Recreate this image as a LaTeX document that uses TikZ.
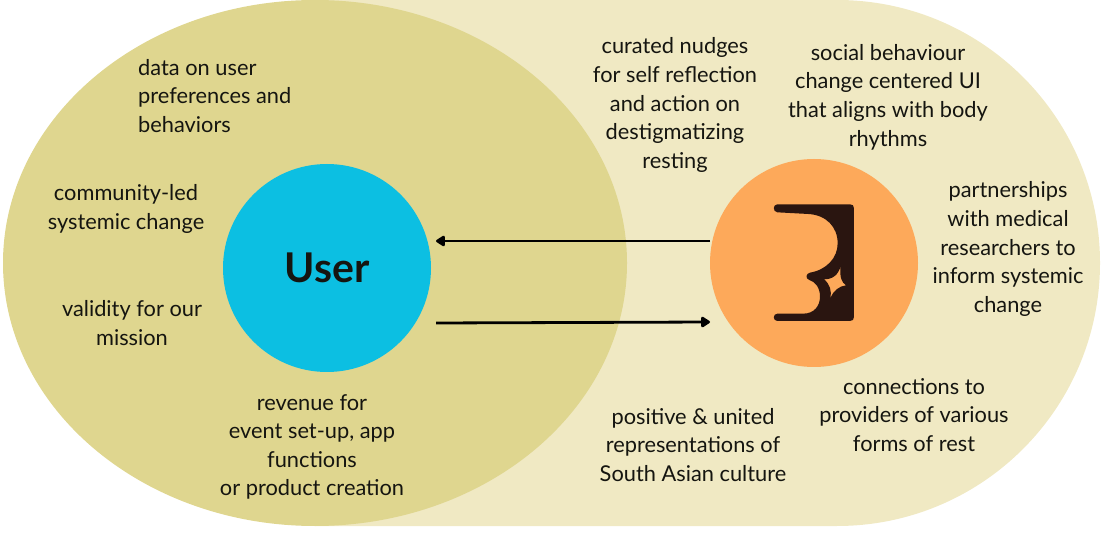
\documentclass[tikz,border=0pt]{standalone}
\usepackage{fontspec}
\setmainfont{Lato}
\usetikzlibrary{arrows.meta,shapes.geometric}
\definecolor{pale}{HTML}{F0E9C3}
\definecolor{olive}{HTML}{DFD68F}
\definecolor{cyanc}{HTML}{0CBFE2}
\definecolor{orangec}{HTML}{FDA95A}
\definecolor{logoc}{HTML}{2A1510}
\definecolor{inkc}{HTML}{151510}
\tikzset{
  lab/.style={font=\fontsize{21.8}{28.6}\selectfont, text=inkc, align=center, inner sep=0pt},
  labl/.style={lab, align=left},
  flow/.style={draw=black, line width=2.8pt, -{Triangle[length=10pt,width=12pt,round]}},
}
\begin{document}
\begin{tikzpicture}[x=1pt,y=-1pt]
\useasboundingbox (0,0) rectangle (1111,534);
\fill[pale] (315,0) -- (837,0) arc[start angle=-90,end angle=90,radius=263] -- (315,526) -- cycle;
\node[ellipse,minimum width=624pt,minimum height=526pt,inner sep=0pt,fill=olive] (userzone) at (315,263) {};
\node[circle,minimum size=208pt,inner sep=0pt,fill=cyanc,font=\fontsize{41}{43}\selectfont\bfseries,text=inkc] (user) at (327,268) {User};
\node[circle,minimum size=208pt,inner sep=0pt,fill=orangec] (org) at (814,263) {};
% logo: zoom coordinates mapped to pixels
\begin{scope}[shift={(700,150)},x=0.3333pt,y=-0.3333pt]
\fill[logoc,even odd rule] (232,163) -- (450,163) .. controls (458,163) and (462,167) .. (462,175)
  -- (462,501) .. controls (462,509) and (458,513) .. (450,513) -- (232,513)
  .. controls (218,513) and (218,491) .. (232,491) -- (310,491)
  .. controls (342,491) and (360,468) .. (360,440)
  .. controls (360,412) and (345,395) .. (328,390)
  .. controls (315,386) and (318,370) .. (330,368)
  .. controls (378,360) and (413,325) .. (413,280)
  .. controls (413,230) and (378,195) .. (325,192)
  -- (232,187) .. controls (218,186) and (218,163) .. (232,163) -- cycle
  (422,348) .. controls (418,380) and (425,398) .. (438,406)
  .. controls (418,408) and (400,422) .. (391,445)
  .. controls (396,425) and (390,402) .. (372,388)
  .. controls (398,388) and (415,375) .. (422,348) -- cycle;
\end{scope}
\coordinate (topstart) at (710,241);
\coordinate (topend) at (436,241);
\coordinate (botstart) at (436,323);
\coordinate (botend) at (710,322);
\draw[flow] (topstart) -- (topend);
\draw[flow] (botstart) -- (botend);
\node[labl,anchor=west] (t1) at (138,96) {data on user\\preferences and\\behaviors};
\node[lab] (t2) at (126,209) {community-led\\systemic change};
\node[lab] (t3) at (132,323) {validity for our\\mission};
\node[lab] (t4) at (312,447) {revenue for\\event set-up, app\\functions\\or product creation};
\node[lab] (t5) at (675,105) {curated nudges\\for self reflection\\and action on\\destigmatizing\\resting};
\node[lab] (t6) at (888,97) {social behaviour\\change centered UI\\that aligns with body\\rhythms};
\node[lab] (t7) at (1008,249) {partnerships\\with medical\\researchers to\\inform systemic\\change};
\node[lab] (t8) at (914,415) {connections to\\providers of various\\forms of rest};
\node[lab] (t9) at (693,445) {positive \& united\\representations of\\South Asian culture};
\end{tikzpicture}
\end{document}
